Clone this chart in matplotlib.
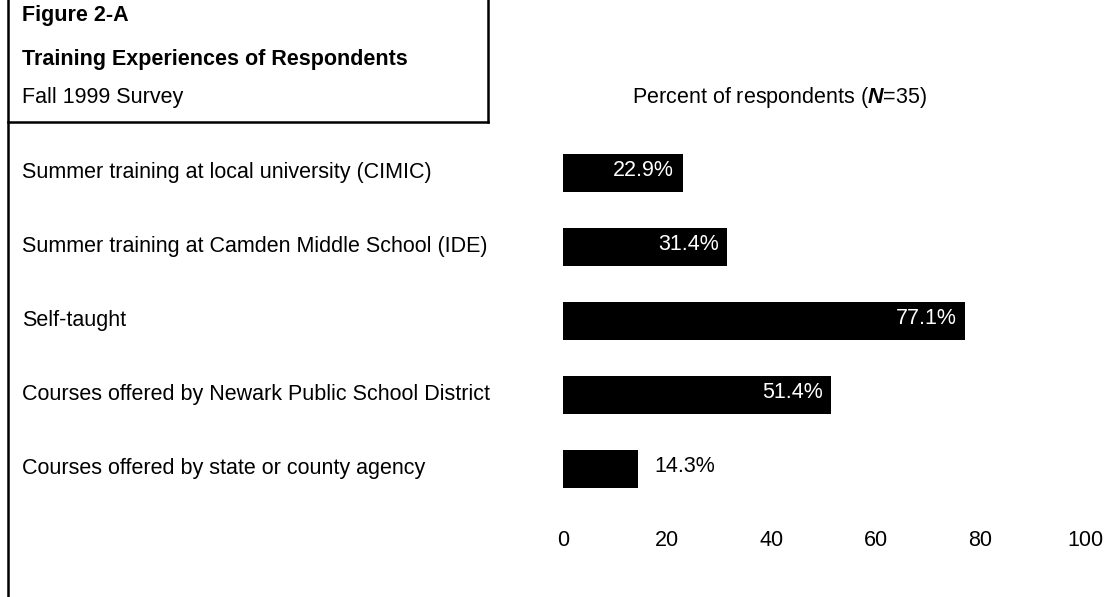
import matplotlib
matplotlib.use("Agg")
import matplotlib.pyplot as plt
from matplotlib.lines import Line2D

plt.rcParams['font.family'] = ['Liberation Sans', 'DejaVu Sans']
plt.rcParams['mathtext.fontset'] = 'custom'
plt.rcParams['mathtext.rm'] = 'Liberation Sans'
plt.rcParams['mathtext.bfit'] = 'Liberation Sans:bold:italic'

categories = [
    "Summer training at local university (CIMIC)",
    "Summer training at Camden Middle School (IDE)",
    "Self-taught",
    "Courses offered by Newark Public School District",
    "Courses offered by state or county agency",
]
percents = [22.9, 31.4, 77.1, 51.4, 14.3]
xticks = [0, 20, 40, 60, 80, 100]

W, H = 1119, 597
FS = 15.5
fig = plt.figure(figsize=(W / 100, H / 100), dpi=100)

def fx(px):
    return px / W

def fy(py):
    return 1 - py / H

# plotting area: 0 at x=563px, 100 at x=1085px; rows every 74px starting at 173px
top_px, bot_px = 135, 520
ax = fig.add_axes([fx(563), fy(bot_px), fx(1085) - fx(563), fy(top_px) - fy(bot_px)])
ax.set_xlim(0, 100)
ax.set_ylim((bot_px - 173) / 74, (top_px - 173) / 74)
for s in ax.spines.values():
    s.set_visible(False)

ypos = list(range(len(categories)))
ax.barh(ypos, percents, height=0.51, color='black', left=0)

for y, v in zip(ypos, percents):
    if v > 20:
        ax.annotate(f"{v:.1f}%", (v, y), xytext=(-6, 2), textcoords='offset points',
                    ha='right', va='center', color='white', fontsize=FS)
    else:
        ax.annotate(f"{v:.1f}%", (v, y), xytext=(12, 2), textcoords='offset points',
                    ha='left', va='center', color='black', fontsize=FS)

ax.set_yticks([])
ax.set_xticks(xticks)
ax.set_xticklabels([str(t) for t in xticks], fontsize=FS)
ax.tick_params(axis='x', length=0, pad=7)

# category labels, left-aligned near the frame
trans = matplotlib.transforms.blended_transform_factory(fig.transFigure, ax.transData)
for y, c in zip(ypos, categories):
    ax.text(fx(22), y, c, transform=trans, ha='left', va='center', fontsize=FS)

# header block
fig.text(fx(22), fy(16), "Figure 2-A", ha='left', va='center', fontsize=FS, fontweight='bold')
fig.text(fx(22), fy(59), "Training Experiences of Respondents", ha='left', va='center',
         fontsize=FS, fontweight='bold')
fig.text(fx(22), fy(97), "Fall 1999 Survey", ha='left', va='center', fontsize=FS)
fig.text(fx(780), fy(97), r"Percent of respondents ($\mathbfit{N}$=35)", ha='center',
         va='center', fontsize=FS)

# frame lines
lw = 1.8
fig.add_artist(Line2D([fx(8), fx(8)], [fy(0), fy(H)], color='black', lw=lw))
fig.add_artist(Line2D([fx(488), fx(488)], [fy(0), fy(122)], color='black', lw=lw))
fig.add_artist(Line2D([fx(8), fx(488)], [fy(122), fy(122)], color='black', lw=lw))

fig.savefig("out.png", dpi=100)
